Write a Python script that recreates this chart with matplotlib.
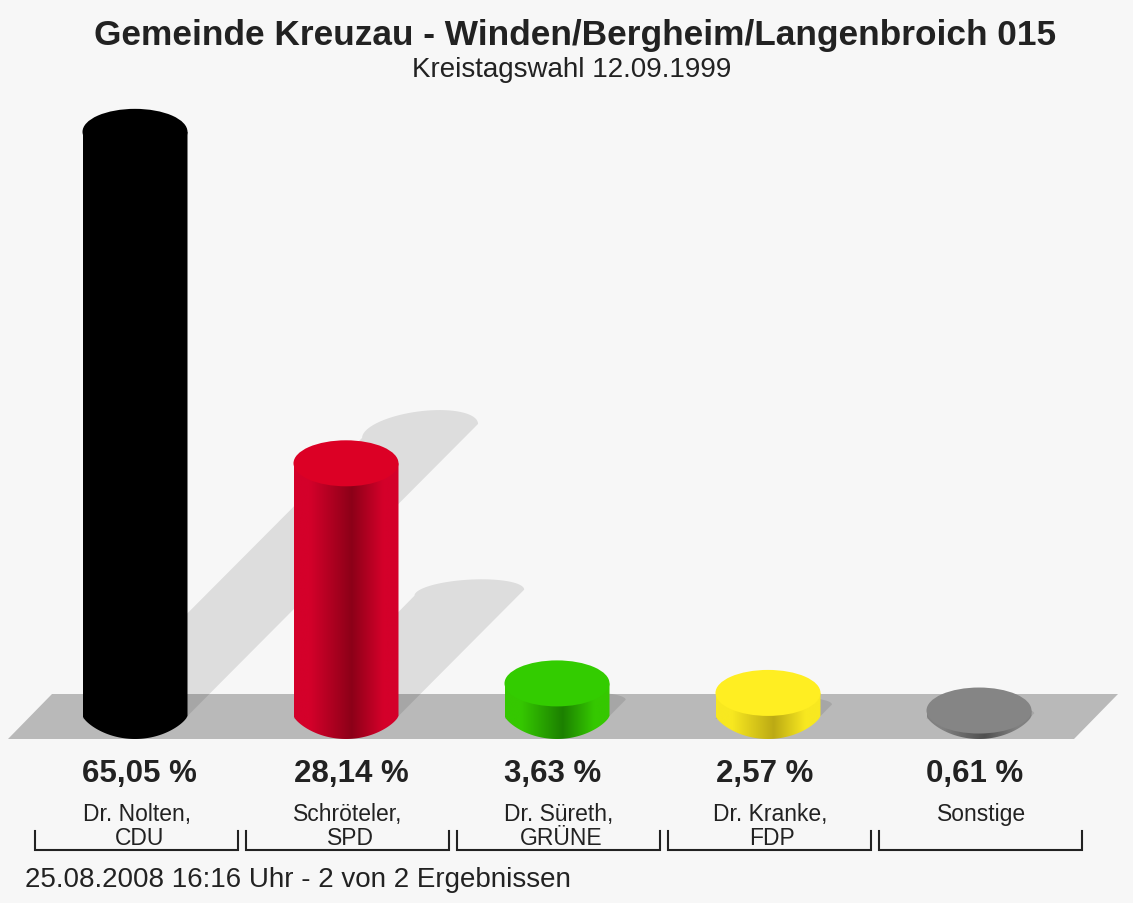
import numpy as np
import matplotlib
matplotlib.use("Agg")
import matplotlib.pyplot as plt
from matplotlib.colors import LinearSegmentedColormap
from matplotlib.patches import Ellipse, PathPatch, Polygon
from matplotlib.path import Path

plt.rcParams['font.family'] = ['Liberation Sans', 'DejaVu Sans']

title = "Gemeinde Kreuzau - Winden/Bergheim/Langenbroich 015"
subtitle = "Kreistagswahl 12.09.1999"
footer = "25.08.2008 16:16 Uhr - 2 von 2 Ergebnissen"
names = ["Dr. Nolten,\nCDU", "Schröteler,\nSPD", "Dr. Süreth,\nGRÜNE", "Dr. Kranke,\nFDP", "Sonstige\n "]
values = [65.05, 28.14, 3.63, 2.57, 0.61]
value_labels = ["65,05 %", "28,14 %", "3,63 %", "2,57 %", "0,61 %"]
cap_colors = ["#000000", "#dc0025", "#33cc00", "#ffee22", "#858585"]
edge_colors = ["#000000", "#d4002a", "#35c800", "#f8e820", "#808080"]
dark_colors = ["#000000", "#8c0018", "#1c8000", "#bcaa14", "#505050"]

W, H = 1133, 904
BG = "#f7f7f7"
TEXT = "#222222"

# pixel layout of the plot: category step and height of one percent
STEP = 211.0
PPU = 8.98
X0 = 135.0
Y0 = 717.0
RX = 52.5 / STEP
RY = 23.0 / PPU

fig = plt.figure(figsize=(W / 100, H / 100), dpi=100, facecolor=BG)
ax = fig.add_axes([0, 0, 1, 1])
xlim = (-X0 / STEP, (W - X0) / STEP)
ylim = ((Y0 - H) / PPU, Y0 / PPU)
ax.axis("off")


def to_x(px):
    return (px - X0) / STEP


def to_y(py):
    return (Y0 - py) / PPU


# floor
ax.add_patch(Polygon([(to_x(8), to_y(740)), (to_x(52), to_y(695)), (to_x(1118), to_y(695)), (to_x(1074), to_y(740))],
                     closed=True, fc="#b9b9b9", ec="none", zorder=1))

# shadows, they get longer and wider with the value
for i, v in enumerate(values):
    h = v * PPU
    cx = i + 0.488 * h / STEP
    cy = 0.488 * v
    rxs = 52.5 + 5.5 * h / 584
    rys = 8 + 0.02 * h
    tilt = 7 * h / 584 / rxs
    t = np.linspace(np.pi, 0, 40)
    sx = cx + rxs / STEP * np.cos(t)
    sy = cy + (rys * np.sin(t) + tilt * rxs * np.cos(t)) / PPU
    px = np.concatenate([[i - RX], sx, [i + RX]])
    py = np.concatenate([[-0.3], sy, [0]])
    ax.add_patch(Polygon(np.column_stack([px, py]), closed=True, fc="black", alpha=0.1, ec="none", zorder=2))

# cylinders
for i, v in enumerate(values):
    t = np.linspace(-1, 1, 80)
    bx = i + RX * t
    by = -RY * (1 - t ** 2) ** 0.75
    verts = np.column_stack([np.concatenate([[i - RX], bx, [i + RX, i - RX]]),
                             np.concatenate([[v], by, [v, v]])])
    clip = Path(verts)
    cmap = LinearSegmentedColormap.from_list("c", [(0, edge_colors[i]), (0.15, edge_colors[i]),
                                                   (0.55, dark_colors[i]), (0.85, edge_colors[i]),
                                                   (1, edge_colors[i])])
    im = ax.imshow(np.linspace(0, 1, 256).reshape(1, -1), cmap=cmap, aspect="auto",
                   extent=(i - RX, i + RX, -RY, v), zorder=3, interpolation="bilinear")
    patch = PathPatch(clip, transform=ax.transData, fc="none", ec="none")
    ax.add_patch(patch)
    im.set_clip_path(patch)
    ax.add_patch(Ellipse((i, v), 2 * RX, 2 * RY, fc=cap_colors[i], ec="none", zorder=4))

ax.set_xlim(xlim)
ax.set_ylim(ylim)

# brackets and labels
for i, lab in enumerate(value_labels):
    ax.text(i - RX, to_y(774), lab, ha="left", va="center", fontsize=22.5, fontweight="bold", color=TEXT, zorder=5)
    first, second = names[i].split("\n")
    ax.text(i + 0.01, to_y(815), first, ha="center", va="center", fontsize=16.5, color=TEXT, zorder=5)
    ax.text(i + 0.02, to_y(839), second, ha="center", va="center", fontsize=16.5, color=TEXT, zorder=5)
    ax.plot([i - 0.474, i - 0.474, i + 0.488, i + 0.488], [to_y(832), to_y(851), to_y(851), to_y(832)],
            color=TEXT, lw=1.5, solid_joinstyle="miter", zorder=5)

ax.text(to_x(575), to_y(36), title, ha="center", va="center", fontsize=25.4, fontweight="bold", color=TEXT)
ax.text(to_x(572), to_y(70), subtitle, ha="center", va="center", fontsize=20, color=TEXT)
ax.text(to_x(25), to_y(880), footer, ha="left", va="center", fontsize=20, color=TEXT)

fig.savefig("out.png", dpi=100, facecolor=BG)
